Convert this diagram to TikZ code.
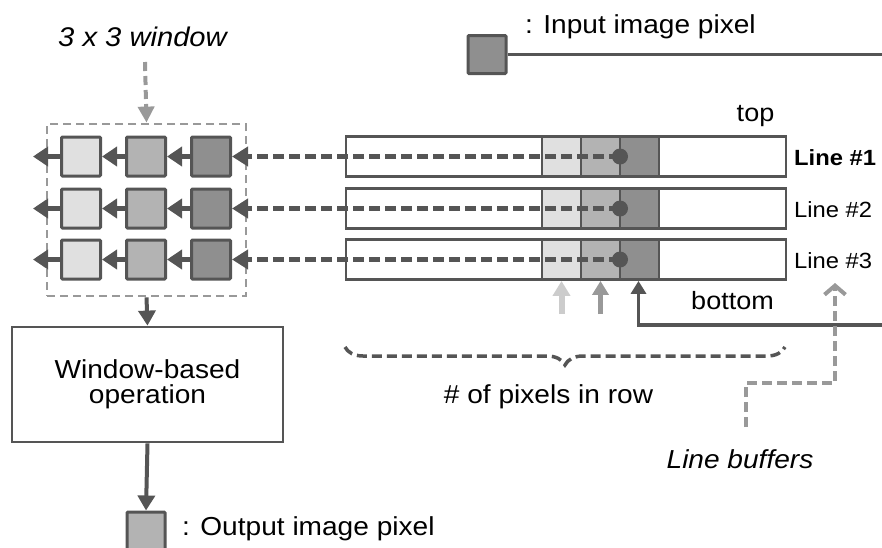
\documentclass[tikz,border=0pt]{standalone}
\usepackage{fontspec}
\setmainfont{Liberation Sans}[FakeStretch=1.08]
\usetikzlibrary{arrows.meta,decorations.pathreplacing}
\definecolor{dk}{HTML}{555555}
\definecolor{gr}{HTML}{999999}
\definecolor{lgt}{HTML}{CCCCCC}
\definecolor{cA}{HTML}{E0E0E0}
\definecolor{cB}{HTML}{B3B3B3}
\definecolor{cC}{HTML}{8F8F8F}
\tikzset{
  pix/.style={draw=dk, line width=3pt, minimum width=39pt, minimum height=39pt, inner sep=0pt, rounded corners=1pt},
  cell/.style={draw=dk, line width=2.8pt, minimum width=39pt, minimum height=40pt, inner sep=0pt},
  buf/.style={draw=dk, line width=2.8pt, fill=white, minimum width=440pt, minimum height=40pt, inner sep=0pt},
  dotnode/.style={circle, fill=dk, minimum size=16pt, inner sep=0pt},
  shiftarrow/.style={draw=dk, line width=4.5pt, -{Triangle[length=15pt,width=19pt]}},
  feedarrow/.style={draw=dk, line width=4.5pt, dash pattern=on 11pt off 5pt, -{Triangle[length=16pt,width=19pt]}},
  flowarrow/.style={draw=dk, line width=4pt, -{Triangle[length=15pt,width=17pt]}},
  txt/.style={inner sep=0pt, font=\fontsize{26}{26}\selectfont},
  linetxt/.style={inner sep=0pt, font=\fontsize{22}{22}\selectfont},
}
\begin{document}
\begin{tikzpicture}[x=1pt,y=-1pt]
\useasboundingbox (0,0) rectangle (882,547);

% legend: input pixel
\node[pix, fill=cC, minimum width=38pt, minimum height=38pt] (inpix) at (487,54.5) {};
\coordinate (inEnd) at (882,54.5);
\draw[dk, line width=3pt] (inpix.east) -- (inEnd);
\node[txt, anchor=base west] (inlab) at (525,33) {: Input image pixel};

% window label
\node[inner sep=0pt, anchor=base, font=\fontsize{27}{27}\selectfont\itshape] (wlab) at (142.5,46) {3 x 3 window};

% window dashed box
\node[draw=gr, line width=2.8pt, dash pattern=on 8pt off 5pt, minimum width=199pt, minimum height=172pt, inner sep=0pt] (win) at (146.5,210) {};
\coordinate (wtop) at (145,62);
\draw[gr, line width=4pt, dash pattern=on 9pt off 5pt, -{Triangle[length=16pt,width=16pt]}] (wtop) -- (win.north);

% line buffers
\foreach \r/\y in {1/156.5,2/208.5,3/259.5}{
  \node[buf] (b\r) at (566,\y) {};
  \node[cell, fill=cA] (b\r a) at (561.5,\y) {};
  \node[cell, fill=cB] (b\r b) at (600.5,\y) {};
  \node[cell, fill=cC] (b\r c) at (639.5,\y) {};
  \node[dotnode] (d\r) at (620,\y) {};
  \node[pix, fill=cA] (w\r a) at (81,\y) {};
  \node[pix, fill=cB] (w\r b) at (146,\y) {};
  \node[pix, fill=cC] (w\r c) at (211,\y) {};
  \coordinate (o\r) at (33,\y);
  \draw[shiftarrow] (w\r a.west) -- (o\r);
  \draw[shiftarrow] (w\r b.west) -- (w\r a.east);
  \draw[shiftarrow] (w\r c.west) -- (w\r b.east);
  \draw[feedarrow] (d\r.center) -- (w\r c.east);
}

\node[linetxt, anchor=base west, font=\fontsize{22}{22}\selectfont\bfseries] (l1) at (794,165) {Line \#1};
\node[linetxt, anchor=base west] (l2) at (794,217) {Line \#2};
\node[linetxt, anchor=base west] (l3) at (794,268) {Line \#3};
\node[inner sep=0pt, anchor=base, font=\fontsize{25}{25}\selectfont] (top) at (755.5,121) {top};
\node[inner sep=0pt, anchor=base, font=\fontsize{25}{25}\selectfont] (bot) at (732.5,309) {bottom};

% arrows under cells
\coordinate (pa) at (561.5,314);
\coordinate (pb) at (600.5,314);
\coordinate (inCorner) at (882,325);
\draw[lgt, line width=6pt, -{Triangle[length=15pt,width=17pt]}] (pa) -- (b3a.south);
\draw[gr, line width=5pt, -{Triangle[length=14pt,width=16pt]}] (pb) -- (b3b.south);
\draw[dk, line width=3.5pt, -{Triangle[length=13pt,width=15pt]}] (inCorner) -| ([xshift=-1pt]b3c.south);

% brace
\draw[dk, line width=3.5pt, dash pattern=on 10pt off 5pt, decorate, decoration={brace, mirror, amplitude=18pt}] (345,347) coordinate (brL) -- (785,347) coordinate (brR);
\node[txt, anchor=base] (npix) at (548.5,403) {\# of pixels in row};

% line buffers label
\coordinate (lb1) at (746,427);
\coordinate (lb2) at (746,383);
\coordinate (lb3) at (835,383);
\coordinate (lb4) at (835,283);
\draw[gr, line width=4pt, dash pattern=on 10pt off 5pt, -{Straight Barb[length=9pt,width=21pt]}] (lb1) -- (lb2) -- (lb3) -- (lb4);
\node[txt, anchor=base, font=\fontsize{26}{26}\selectfont\itshape] (lbl) at (740,468) {Line buffers};

% window-based operation
\node[draw=dk, line width=2.8pt, minimum width=271pt, minimum height=115pt, inner sep=0pt, align=center, font=\fontsize{26}{24.5}\selectfont] (op) at (147.5,384.5) {Window-based\\operation};
\draw[flowarrow] (win.south) -- (op.north);

% output pixel
\node[pix, fill=cB, minimum width=38pt, minimum height=38pt] (outpix) at (146,531) {};
\draw[flowarrow] (op.south) -- (outpix.north);
\node[txt, anchor=base west] (outlab) at (182,535) {: Output image pixel};
\end{tikzpicture}
\end{document}
